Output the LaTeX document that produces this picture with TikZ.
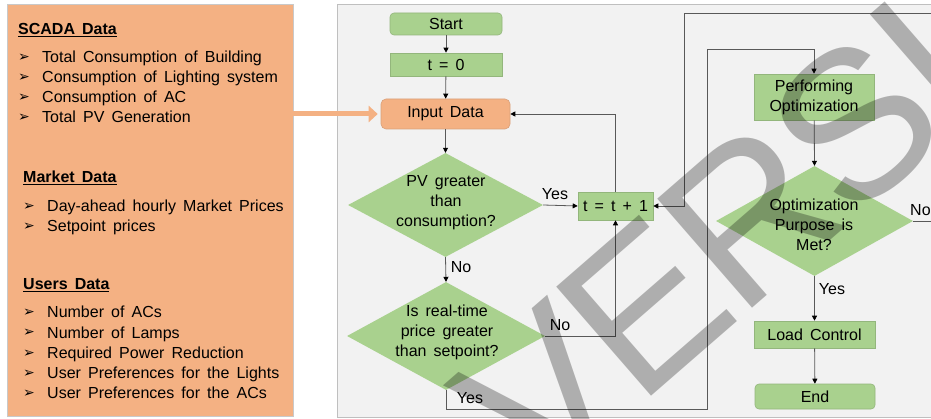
\documentclass[tikz,border=0pt]{standalone}
\usepackage{fontspec}
\setmainfont{Liberation Sans}[WordSpace=1.6]
\newfontfamily\symfont{DejaVu Sans}
\newfontfamily\markfont{Liberation Sans}
\usetikzlibrary{shapes.geometric,arrows.meta}

\definecolor{panelorange}{HTML}{F4B183}
\definecolor{paneledge}{HTML}{C9C9C9}
\definecolor{boxgreen}{HTML}{A9D18E}
\definecolor{boxedge}{HTML}{93B67C}
\definecolor{inputedge}{HTML}{D9A07A}
\definecolor{canvas}{HTML}{F2F2F2}
\definecolor{canvasedge}{HTML}{BFBFBF}
\definecolor{flowline}{HTML}{595959}

\tikzset{
  flowtext/.style={font=\fontsize{16}{20}\selectfont, align=center, text=black},
  procbox/.style={flowtext, draw=boxedge, fill=boxgreen, inner sep=0pt, line width=0.6pt},
  termbox/.style={procbox, rounded corners=4pt},
  decision/.style={diamond, draw=none, fill=boxgreen, inner sep=0pt},
  dectext/.style={flowtext, inner sep=0pt},
  flow/.style={draw=flowline, line width=0.8pt, -{Triangle[length=5pt,width=5pt,color=black]}},
  tag/.style={font=\fontsize{16}{20}\selectfont, inner sep=0pt},
  heading/.style={font=\fontsize{16}{20}\selectfont\bfseries, anchor=base west, inner sep=0pt},
  itemtext/.style={font=\fontsize{16}{20}\selectfont, anchor=base west, inner sep=0pt},
  bulletmark/.style={font=\symfont\fontsize{14}{14}\selectfont, anchor=base west, inner sep=0pt},
  feed/.style={draw=panelorange, line width=5pt, -{Triangle[length=9pt,width=16pt]}},
  stamp/.style={font=\markfont\fontsize{210}{210}\selectfont, text=black, text opacity=0.28,
                inner sep=0pt, anchor=base west, rotate=41},
}

\begin{document}
\begin{tikzpicture}[x=1pt,y=-1pt]
\useasboundingbox (0,0) rectangle (931,419);
\clip (0,0) rectangle (931,419);
\fill[white] (0,0) rectangle (931,419);

% ---- data panel ----
\node[draw=paneledge, fill=panelorange, minimum width=286pt, minimum height=412pt,
      inner sep=0pt, line width=0.6pt] (panel) at (150,210) {};

\node[heading] (h-scada) at (18,35) {\underline{SCADA Data}};
\foreach \txt [count=\i] in {Total Consumption of Building,
                             Consumption of Lighting system,
                             Consumption of AC,
                             Total PV Generation} {
  \node[bulletmark] (bs-\i) at (18,42+20*\i) {➢};
  \node[itemtext]   (s-\i)  at (42,43+20*\i) {\txt};
}

\node[heading] (h-market) at (23,183) {\underline{Market Data}};
\foreach \txt [count=\i] in {Day-ahead hourly Market Prices,
                             Setpoint prices} {
  \node[bulletmark] (bm-\i) at (23,190+20.5*\i) {➢};
  \node[itemtext]   (m-\i)  at (47,191+20.5*\i) {\txt};
}

\node[heading] (h-users) at (23,290) {\underline{Users Data}};
\foreach \txt [count=\i] in {Number of ACs,
                             Number of Lamps,
                             Required Power Reduction,
                             User Preferences for the Lights,
                             User Preferences for the ACs} {
  \node[bulletmark] (bu-\i) at (23,297+20*\i) {➢};
  \node[itemtext]   (u-\i)  at (47,298+20*\i) {\txt};
}

% ---- flowchart canvas ----
\filldraw[fill=canvas, draw=canvasedge, line width=0.6pt] (337,4) rectangle (945,417);

% boxes
\node[termbox, minimum width=112pt, minimum height=22pt] (start) at (446,24) {Start};
\node[procbox, minimum width=112pt, minimum height=23pt] (tzero) at (446,64.5) {t = 0};
\node[flowtext, draw=inputedge, fill=panelorange, rounded corners=5pt, inner sep=0pt,
      line width=0.6pt, minimum width=129pt, minimum height=30pt] (input) at (445.5,114) {Input Data};
\node[procbox, minimum width=75pt, minimum height=28pt] (tplus) at (615.5,206) {t = t + 1};
\node[procbox, minimum width=120pt, minimum height=46pt] (perf) at (814,97) {Performing\\Optimization};
\node[procbox, minimum width=121pt, minimum height=27pt] (load) at (814.5,334.5) {Load Control};
\node[termbox, minimum width=120pt, minimum height=25pt] (end) at (815,396.5) {End};

% decisions
\node[decision, minimum width=195pt, minimum height=104pt] (d1) at (445.5,205) {};
\node[dectext] (d1t) at (446,203) {PV greater\\than\\consumption?};
\node[decision, minimum width=198pt, minimum height=108pt] (d2) at (446,336) {};
\node[dectext] (d2t) at (447,332) {Is real-time\\price greater\\than setpoint?};
\node[decision, minimum width=197pt, minimum height=110pt] (d3) at (814.5,221) {};
\node[dectext] (d3t) at (814,225) {Optimization\\Purpose is\\Met?};

% feed arrow from the data panel
\draw[feed] (panel.east |- input.west) -- ([xshift=-3pt]input.west);

% helper points for the long return paths
\coordinate (ybot) at (707,409);
\coordinate (ytop) at (707,49);
\coordinate (nright) at (945,13);
\coordinate (nleft) at (684,13);

% connectors
\draw[flow] (start) -- (tzero);
\draw[flow] (tzero) -- (input);
\draw[flow] (input) -- (d1);
\draw[flow] (d1.east) -- (tplus.west);
\draw[flow] (tplus.north) |- (input.east);
\draw[flow] (d1.south) -- (d2.north);
\draw[flow] (d2.east) -| (tplus.south);
\draw[flow] (d2.south) |- (ybot) -- (ytop) -| (perf.north);
\draw[flow] (perf) -- (d3.north);
\draw[flow] (d3.south) -- (load.north);
\draw[flow] (load) -- (end);
\draw[flow] (d3.east) -| (nright) -- (nleft) |- (tplus.east);

% branch labels
\node[tag] (l-yes1) at (555,194) {Yes};
\node[tag] (l-no1)  at (461,267) {No};
\node[tag] (l-no2)  at (560,325) {No};
\node[tag] (l-yes2) at (470,398) {Yes};
\node[tag] (l-yes3) at (832,289) {Yes};
\node[tag, anchor=west] (l-no3) at (910,210) {No};

% diagonal stamp across the flowchart
\node[stamp] (stamp) at (537,496) {V\kern-6pt E\kern-6pt R\kern-6pt S\kern-6pt I};
\end{tikzpicture}
\end{document}
